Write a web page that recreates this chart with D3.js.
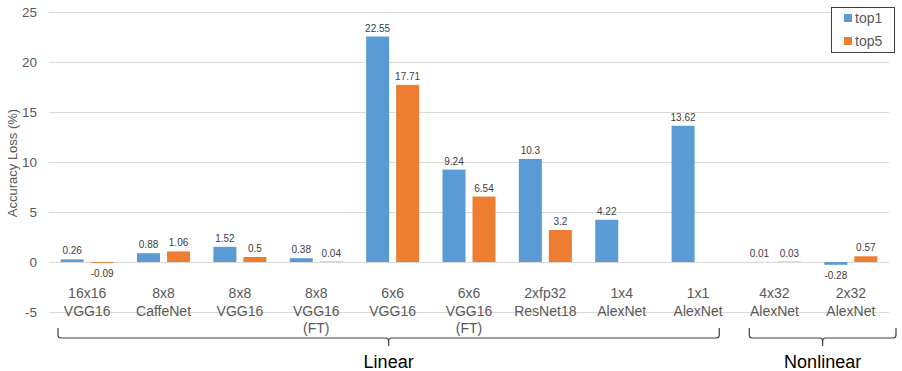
<!DOCTYPE html>
<html>
<head>
<meta charset="utf-8">
<script src="https://cdn.jsdelivr.net/npm/d3@7"></script>
<style>
  html, body { margin: 0; padding: 0; background: #fff; }
  svg { display: block; font-family: "Liberation Sans", Arial, sans-serif; }
</style>
</head>
<body>
<div id="chart"></div>
<script>
(function () {
  // chart data
  const categories = [
    "16x16\nVGG16", "8x8\nCaffeNet", "8x8\nVGG16", "8x8\nVGG16\n(FT)", "6x6\nVGG16",
    "6x6\nVGG16\n(FT)", "2xfp32\nResNet18", "1x4\nAlexNet", "1x1\nAlexNet",
    "4x32\nAlexNet", "2x32\nAlexNet"
  ];
  const top1 = [0.26, 0.88, 1.52, 0.38, 22.55, 9.24, 10.3, 4.22, 13.62, 0.01, -0.28];
  const top5 = [-0.09, 1.06, 0.5, 0.04, 17.71, 6.54, 3.2, null, null, 0.03, 0.57];
  const seriesNames = ["top1", "top5"];
  const yTicks = [-5, 0, 5, 10, 15, 20, 25];
  const groupNames = ["Linear", "Nonlinear"];
  const groupFrom = [0, 9];
  const groupTo = [8, 10];

  const W = 902, H = 371;
  const colors = { top1: "#5B9BD5", top5: "#ED7D31" };
  const braceInset = { Linear: [9, -17], Nonlinear: [13, 7] };

  const svg = d3.select("#chart").append("svg")
    .attr("width", W).attr("height", H);

  const x = d3.scaleBand()
    .domain(d3.range(categories.length))
    .range([49, 889])
    .padding(0);
  const x1 = d3.scaleBand()
    .domain(seriesNames)
    .range([0, x.bandwidth()])
    .paddingInner(0.233)
    .paddingOuter(0.389);
  const y = d3.scaleLinear().domain([-5, 25]).range([312, 12]);

  // gridlines
  svg.append("g").selectAll("line")
    .data(yTicks)
    .join("line")
    .attr("x1", 49).attr("x2", 889)
    .attr("y1", d => Math.round(y(d)) + 0.5)
    .attr("y2", d => Math.round(y(d)) + 0.5)
    .attr("stroke", "#d9d9d9")
    .attr("stroke-width", 1);

  // y axis tick labels (plain hyphen like the original)
  const yAxis = d3.axisLeft(y).tickValues(yTicks).tickFormat(d => String(d)).tickSize(0).tickPadding(0);
  const yg = svg.append("g").attr("transform", "translate(37,0)").call(yAxis);
  yg.attr("font-family", null).attr("font-size", null);
  yg.select(".domain").remove();
  yg.selectAll("text")
    .attr("fill", "#595959")
    .attr("font-size", 13.5);

  // y axis title
  svg.append("text")
    .attr("transform", "translate(17,163) rotate(-90)")
    .attr("text-anchor", "middle")
    .attr("font-size", 13)
    .attr("fill", "#595959")
    .text("Accuracy Loss (%)");

  // bars
  const rows = [];
  categories.forEach((c, i) => {
    rows.push({ i, s: "top1", v: top1[i] });
    rows.push({ i, s: "top5", v: top5[i] });
  });
  const valid = rows.filter(d => d.v !== null);

  svg.append("g").selectAll("rect")
    .data(valid)
    .join("rect")
    .attr("x", d => x(d.i) + x1(d.s))
    .attr("width", x1.bandwidth())
    .attr("y", d => y(Math.max(0, d.v)))
    .attr("height", d => Math.abs(y(d.v) - y(0)))
    .attr("fill", d => colors[d.s]);

  // value labels
  svg.append("g").selectAll("text")
    .data(valid)
    .join("text")
    .attr("x", d => x(d.i) + x1(d.s) + x1.bandwidth() / 2)
    .attr("y", d => d.v >= 0 ? y(d.v) - 5 : y(d.v) + 14)
    .attr("text-anchor", "middle")
    .attr("font-size", 10)
    .attr("fill", "#404040")
    .text(d => d.v);

  // category labels
  const cat = svg.append("g").selectAll("text")
    .data(categories)
    .join("text")
    .attr("x", (d, i) => x(i) + x.bandwidth() / 2)
    .attr("y", 298)
    .attr("text-anchor", "middle")
    .attr("font-size", 14)
    .attr("fill", "#595959");
  cat.selectAll("tspan")
    .data(d => d.split("\n"))
    .join("tspan")
    .attr("x", function () { return this.parentNode.getAttribute("x"); })
    .attr("dy", (d, j) => j === 0 ? 0 : 17.5)
    .text(d => d);

  // group braces
  groupNames.forEach((g, k) => {
    const left = x(groupFrom[k]) + braceInset[g][0];
    const right = x(groupTo[k]) + x.bandwidth() + braceInset[g][1];
    const mid = (left + right) / 2;
    const top = 328, bar = 338, r = 3;
    const p = d3.path();
    p.moveTo(left, top);
    p.lineTo(left, bar - r);
    p.quadraticCurveTo(left, bar, left + r, bar);
    p.lineTo(mid - r, bar);
    p.quadraticCurveTo(mid, bar, mid, bar + r);
    p.lineTo(mid, bar + 8);
    p.moveTo(mid, bar + r);
    p.quadraticCurveTo(mid, bar, mid + r, bar);
    p.lineTo(right - r, bar);
    p.quadraticCurveTo(right, bar, right, bar - r);
    p.lineTo(right, top);
    svg.append("path")
      .attr("d", p.toString())
      .attr("fill", "none")
      .attr("stroke", "#404040")
      .attr("stroke-width", 1.2);
    svg.append("text")
      .attr("x", mid)
      .attr("y", 368)
      .attr("text-anchor", "middle")
      .attr("font-size", 18)
      .attr("fill", "#000")
      .text(g);
  });

  // legend
  const legend = svg.append("g");
  legend.append("rect")
    .attr("x", 831.5).attr("y", 7.5)
    .attr("width", 63).attr("height", 45)
    .attr("fill", "#fff")
    .attr("stroke", "#404040")
    .attr("stroke-width", 1);
  seriesNames.forEach((s, k) => {
    const cy = 18 + k * 23;
    legend.append("rect")
      .attr("x", 844).attr("y", cy - 4)
      .attr("width", 8).attr("height", 8)
      .attr("fill", colors[s]);
    legend.append("text")
      .attr("x", 855).attr("y", cy + 5)
      .attr("font-size", 14)
      .attr("fill", "#595959")
      .text(s);
  });
})();
</script>
</body>
</html>
